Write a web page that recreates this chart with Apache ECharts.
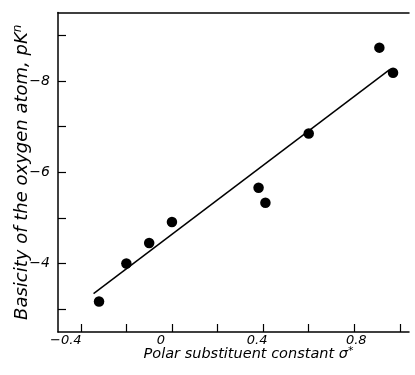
<!DOCTYPE html>
<html>
<head>
<meta charset="utf-8">
<script src="https://cdn.jsdelivr.net/npm/echarts@6/dist/echarts.min.js"></script>
<style>
html,body{margin:0;padding:0;background:#fff;}
#chart{width:415px;height:375px;}
</style>
</head>
<body>
<div id="chart"></div>
<script>
// Data points (sigma*, pK)
const sigmaValues = [-0.32, -0.20, -0.10, 0.00, 0.38, 0.41, 0.60, 0.91, 0.97];
const pkValues = [-3.17, -4.00, -4.45, -4.91, -5.66, -5.33, -6.85, -8.73, -8.18];
// Regression line end points
const fitSigma = [-0.344, 0.955];
const fitPk = [-3.34, -8.25];
// Axis ticks and labels
const xTicks = [-0.4, -0.2, 0, 0.2, 0.4, 0.6, 0.8, 1.0];
const xLabels = [-0.4, 0, 0.4, 0.8];
const yTicks = [-9, -8, -7, -6, -5, -4, -3];
const yLabels = [-8, -6, -4];
const xName = 'Polar substituent constant σ{sup|*}';
const yName = 'Basicity of the oxygen atom, pK{sup|n}';

const fmt = v => String(Math.round(v * 10) / 10).replace('-', '−');
const font = '"DejaVu Sans", sans-serif';
// per-label horizontal nudge (typeset offsets in the original figure)
const xLabelStyle = v => {
  const r = Math.round(v * 10) / 10;
  if (r === -0.4) return 'a';
  if (r === 0) return 'b';
  if (r === 0.4) return 'c';
  return 'd';
};
const lbl = { color: '#000', fontSize: 13, fontStyle: 'italic', fontFamily: font };

const chart = echarts.init(document.getElementById('chart'));
chart.setOption({
  animation: false,
  backgroundColor: '#fff',
  grid: { left: 58, right: 6, top: 12.5, bottom: 43, containLabel: false, outerBoundsMode: 'none' },
  xAxis: [{
    type: 'value', min: -0.5, max: 1.04,
    splitLine: { show: false },
    axisLine: { onZero: false, lineStyle: { color: '#000', width: 1.5 } },
    axisTick: { inside: true, length: 8, lineStyle: { color: '#000', width: 1.2 }, customValues: xTicks },
    axisLabel: {
      customValues: xLabels,
      formatter: v => '{' + xLabelStyle(v) + '|' + fmt(v) + '}',
      color: '#000', fontSize: 13, fontStyle: 'italic', fontFamily: font, margin: 2,
      rich: {
        a: Object.assign({ padding: [0, 30, 0, 0] }, lbl),
        b: Object.assign({ padding: [0, 22, 0, 0] }, lbl),
        c: Object.assign({ padding: [0, 12, 0, 0] }, lbl),
        d: Object.assign({ padding: [0, 0, 0, 4] }, lbl)
      }
    },
    name: xName, nameLocation: 'middle', nameGap: 14, nameMoveOverlap: false,
    nameTextStyle: { color: '#000', fontSize: 14.5, fontStyle: 'italic', fontFamily: font, padding: [0, 0, 0, 30],
      rich: { sup: { fontSize: 11, fontStyle: 'italic', fontFamily: font, color: '#000', padding: [0, 0, 6, 0] } } }
  }, {
    type: 'value', position: 'top', min: -0.5, max: 1.04,
    splitLine: { show: false }, axisTick: { show: false }, axisLabel: { show: false },
    axisLine: { onZero: false, lineStyle: { color: '#000', width: 1.5 } }
  }],
  yAxis: {
    type: 'value', min: -9.5, max: -2.5, inverse: true,
    splitLine: { show: false },
    axisLine: { onZero: false, lineStyle: { color: '#000', width: 1.5 } },
    axisTick: { inside: true, length: 8, lineStyle: { color: '#000', width: 1.2 }, customValues: yTicks },
    axisLabel: { customValues: yLabels, formatter: fmt, color: '#000', fontSize: 14, fontStyle: 'italic', fontFamily: font, margin: 8 },
    name: yName, nameLocation: 'middle', nameGap: 25, nameRotate: 90, nameMoveOverlap: false,
    nameTextStyle: { color: '#000', fontSize: 18, fontStyle: 'italic', fontFamily: font,
      rich: { sup: { fontSize: 12, fontStyle: 'italic', fontFamily: font, color: '#000', padding: [0, 0, 9, 0] } } }
  },
  series: [{
    type: 'line',
    data: fitSigma.map((x, i) => [x, fitPk[i]]),
    symbol: 'none',
    lineStyle: { color: '#000', width: 1.5 }
  }, {
    type: 'scatter',
    data: sigmaValues.map((x, i) => [x, pkValues[i]]),
    symbol: 'circle', symbolSize: 10.5,
    itemStyle: { color: '#000', opacity: 1 }
  }]
});
</script>
</body>
</html>
